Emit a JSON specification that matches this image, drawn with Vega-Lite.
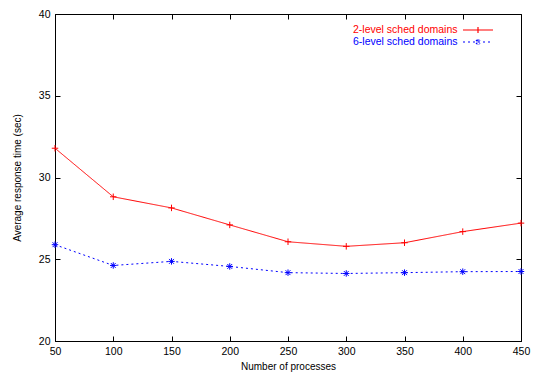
{
  "$schema": "https://vega.github.io/schema/vega-lite/v6.json",
  "width": 466,
  "height": 327,
  "autosize": {"type": "none"},
  "padding": {"left": 55, "top": 14, "right": 18, "bottom": 31},
  "config": {
    "font": "Liberation Sans",
    "view": {"stroke": "#000000", "strokeWidth": 1},
    "axis": {
      "grid": false,
      "domainColor": "#000000",
      "tickColor": "#000000",
      "labelColor": "#000000",
      "titleColor": "#000000",
      "labelFont": "Liberation Sans",
      "titleFont": "Liberation Sans",
      "labelFontSize": 10.5,
      "titleFontSize": 10,
      "titleFontWeight": "normal",
      "labelFlush": false,
      "tickSize": 5
    }
  },
  "data": {
    "values": [
      {"procs": 50, "time": 31.79, "series": "2-level sched domains"},
      {"procs": 100, "time": 28.82, "series": "2-level sched domains"},
      {"procs": 150, "time": 28.14, "series": "2-level sched domains"},
      {"procs": 200, "time": 27.1, "series": "2-level sched domains"},
      {"procs": 250, "time": 26.07, "series": "2-level sched domains"},
      {"procs": 300, "time": 25.79, "series": "2-level sched domains"},
      {"procs": 350, "time": 26.01, "series": "2-level sched domains"},
      {"procs": 400, "time": 26.69, "series": "2-level sched domains"},
      {"procs": 450, "time": 27.21, "series": "2-level sched domains"},
      {"procs": 50, "time": 25.89, "series": "6-level sched domains"},
      {"procs": 100, "time": 24.62, "series": "6-level sched domains"},
      {"procs": 150, "time": 24.87, "series": "6-level sched domains"},
      {"procs": 200, "time": 24.56, "series": "6-level sched domains"},
      {"procs": 250, "time": 24.18, "series": "6-level sched domains"},
      {"procs": 300, "time": 24.13, "series": "6-level sched domains"},
      {"procs": 350, "time": 24.18, "series": "6-level sched domains"},
      {"procs": 400, "time": 24.24, "series": "6-level sched domains"},
      {"procs": 450, "time": 24.25, "series": "6-level sched domains"}
    ]
  },
  "layer": [
    {
      "encoding": {
        "x": {"field": "procs", "type": "quantitative", "scale": {"domain": [50, 450], "nice": false, "zero": false},
              "axis": {"title": "Number of processes", "values": [50,100,150,200,250,300,350,400,450], "ticks": false, "labelPadding": 5, "titlePadding": 5}},
        "y": {"field": "time", "type": "quantitative", "scale": {"domain": [20, 40], "nice": false, "zero": false},
              "axis": {"title": "Average response time (sec)", "values": [20,25,30,35,40], "ticks": false, "labelPadding": 5, "titlePadding": 16}}
      },
      "layer": [
        {
          "mark": {"type": "line", "strokeWidth": 1},
          "encoding": {
            "color": {"field": "series", "type": "nominal",
              "scale": {"domain": ["2-level sched domains", "6-level sched domains"], "range": ["#ff0000", "#0000ff"]},
              "legend": {
                "title": null, "orient": "none", "legendX": 417, "legendY": 10,
                "symbolSize": 100, "symbolStrokeWidth": 1.2, "symbolFillColor": "transparent", "symbolOpacity": 1,
                "labelFontSize": 10.5, "labelAlign": "right", "labelOffset": -26.5, "rowPadding": -3, "padding": 0,
                "encode": {
                  "labels": {"update": {"fill": {"scale": "color", "field": "value"}}},
                  "symbols": {"update": {
                    "shape": {"signal": "datum.value === '2-level sched domains' ? 'M-3,0L3,0M0,-0.6L0,0.6' : 'M-3,0L3,0M-0.4,-0.4L0.4,0.4M-0.4,0.4L0.4,-0.4M0,-0.55L0,0.55'"},
                    "strokeDash": {"signal": "datum.value === '6-level sched domains' ? [2,3] : null"},
                    "stroke": {"signal": "datum.value === '2-level sched domains' ? '#ff0000' : '#0000ff'"},
                    "fill": {"value": "transparent"}
                  }}
                }
              }},
            "strokeDash": {"field": "series", "type": "nominal",
              "scale": {"domain": ["2-level sched domains", "6-level sched domains"], "range": [[1, 0], [2, 3]]},
              "legend": null}
          }
        },
        {
          "transform": [{"filter": "datum.series === '2-level sched domains'"}],
          "mark": {"type": "point", "filled": false, "strokeWidth": 1, "opacity": 1, "color": "#ff0000",
                   "shape": "M-1,0L1,0M0,-1L0,1", "size": 42}
        },
        {
          "transform": [{"filter": "datum.series === '6-level sched domains'"}],
          "mark": {"type": "point", "filled": false, "strokeWidth": 1, "opacity": 1, "color": "#0000ff",
                   "shape": "M-1,0L1,0M0,-1L0,1M-0.75,-0.75L0.75,0.75M-0.75,0.75L0.75,-0.75", "size": 42}
        }
      ]
    },
    {
      "mark": {"type": "point", "opacity": 0},
      "encoding": {
        "x": {"field": "procs", "type": "quantitative", "scale": {"domain": [50, 450], "nice": false, "zero": false},
              "axis": {"orient": "top", "offset": -327, "labels": false, "domain": false, "title": null, "values": [50,100,150,200,250,300,350,400,450]}},
        "y": {"field": "time", "type": "quantitative", "scale": {"domain": [20, 40], "nice": false, "zero": false},
              "axis": {"orient": "right", "offset": -466, "labels": false, "domain": false, "title": null, "values": [20,25,30,35,40]}}
      }
    },
    {
      "mark": {"type": "point", "opacity": 0},
      "encoding": {
        "x": {"field": "procs", "type": "quantitative", "scale": {"domain": [50, 450], "nice": false, "zero": false},
              "axis": {"orient": "bottom", "offset": -327, "labels": false, "domain": false, "title": null, "values": [50,100,150,200,250,300,350,400,450]}},
        "y": {"field": "time", "type": "quantitative", "scale": {"domain": [20, 40], "nice": false, "zero": false},
              "axis": {"orient": "left", "offset": -466, "labels": false, "domain": false, "title": null, "values": [20,25,30,35,40]}}
      }
    }
  ],
  "resolve": {"scale": {"x": "independent", "y": "independent"}, "axis": {"x": "independent", "y": "independent"}}
}
